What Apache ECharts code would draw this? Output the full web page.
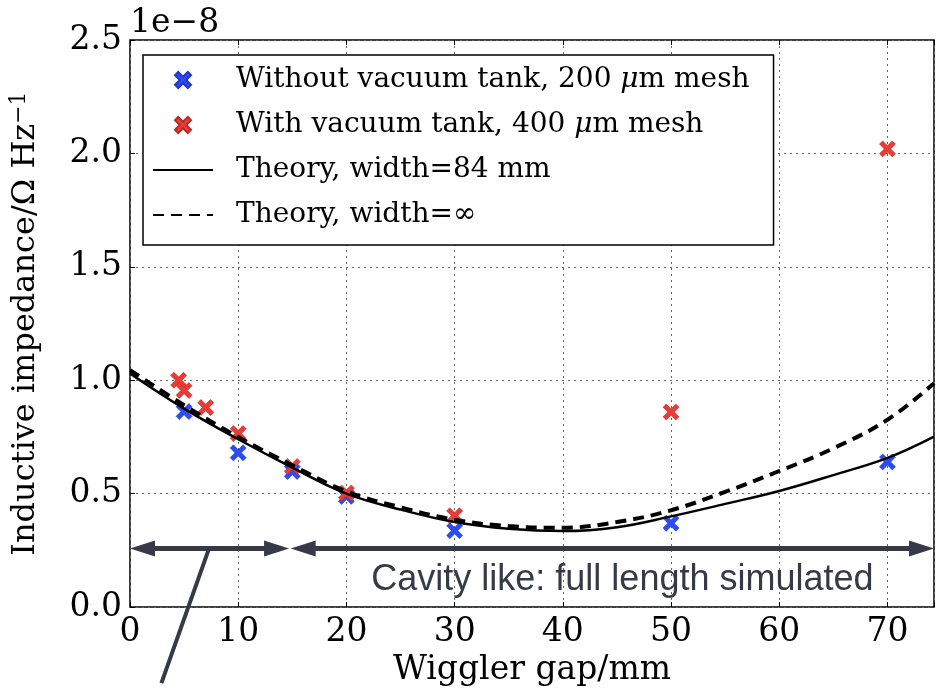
<!DOCTYPE html>
<html>
<head>
<meta charset="utf-8">
<script src="https://cdn.jsdelivr.net/npm/echarts@6/dist/echarts.min.js"></script>
<style>
  html, body { margin: 0; padding: 0; background: #fff; }
  #chart { width: 937px; height: 692px; }
</style>
</head>
<body>
<div id="chart"></div>
<script>
// values in units of 1e-8 Ohm/Hz
var withoutTank = [[5, 0.862], [10, 0.68], [15, 0.598], [20, 0.488], [30, 0.337], [50, 0.37], [70, 0.64]];
var withTank = [[4.5, 1.0], [5, 0.955], [7, 0.88], [10, 0.765], [15, 0.62], [20, 0.503], [30, 0.403], [50, 0.86], [70, 2.02]];
var theoryGap = [0, 5, 10, 15, 20, 25, 30, 35, 40, 45, 50, 55, 60, 65, 70, 74.3];
var theory84 = [1.03, 0.875, 0.74, 0.615, 0.50, 0.43, 0.375, 0.345, 0.335, 0.352, 0.40, 0.455, 0.512, 0.582, 0.658, 0.752];
var theoryInf = [1.045, 0.89, 0.75, 0.625, 0.51, 0.44, 0.385, 0.357, 0.35, 0.375, 0.427, 0.508, 0.60, 0.70, 0.826, 0.987];
var xTicks = [0, 10, 20, 30, 40, 50, 60, 70];
var yTicks = ['0.0', '0.5', '1.0', '1.5', '2.0', '2.5'];

var serif = 'DejaVu Serif';
var ink = '#363a48';
var xMark = 'path://M0,2 L2,0 L5,3 L8,0 L10,2 L7,5 L10,8 L8,10 L5,7 L2,10 L0,8 L3,5 Z';

function zip(xs, ys) {
    var out = [];
    for (var i = 0; i < xs.length; i++) out.push([xs[i], ys[i]]);
    return out;
}

var chart = echarts.init(document.getElementById('chart'));

var option = {
    animation: false,
    title: {
        text: '1e\u22128',
        left: 125,
        top: 2,
        textStyle: { fontFamily: serif, fontSize: 33, fontWeight: 'normal', color: '#000' }
    },
    grid: {
        left: 128, top: 40, right: -1, bottom: 77,
        show: true, borderColor: '#000', borderWidth: 1.5, backgroundColor: 'transparent'
    },
    legend: {
        orient: 'vertical',
        left: 143, top: 55,
        padding: [11, 24, 16, 9],
        itemGap: 17,
        itemWidth: 60,
        itemHeight: 16,
        backgroundColor: '#fff',
        borderColor: '#000',
        borderWidth: 1.5,
        borderRadius: 0,
        data: [
            { name: 'Without vacuum tank, 200 \u03bcm mesh' },
            { name: 'With vacuum tank, 400 \u03bcm mesh' },
            { name: 'Theory, width=84 mm', itemStyle: { opacity: 0 } },
            { name: 'Theory, width=\u221e', itemStyle: { opacity: 0 } }
        ],
        formatter: function (name) {
            return '{n|' + name.replace('\u03bc', '}{i|\u03bc}{n|') + '}';
        },
        textStyle: {
            fontFamily: serif, fontSize: 28, color: '#000', padding: [0, 0, 0, 18],
            rich: {
                n: { fontFamily: serif, fontSize: 28, color: '#000', lineHeight: 28 },
                i: { fontFamily: serif, fontSize: 28, fontStyle: 'italic', color: '#000', lineHeight: 28 }
            }
        }
    },
    xAxis: [{
        type: 'value', min: 0, max: 74.3, interval: 10,
        name: 'Wiggler gap/mm', nameLocation: 'middle', nameGap: 36,
        nameTextStyle: { fontFamily: serif, fontSize: 33, color: '#000' },
        axisLine: { show: false },
        axisTick: { show: true, inside: true, length: 5, lineStyle: { color: '#000' } },
        axisLabel: {
            fontFamily: serif, fontSize: 33, color: '#000', margin: 9,
            formatter: function (v) { return xTicks.indexOf(v) >= 0 ? String(v) : ''; }
        },
        splitLine: { show: true, lineStyle: { color: '#666', type: [2, 4], width: 1 } }
    }, {
        type: 'value', position: 'top', min: 0, max: 74.3, interval: 10,
        axisLine: { show: false },
        axisTick: { show: true, inside: true, length: 5, lineStyle: { color: '#000' } },
        axisLabel: { show: false },
        splitLine: { show: false }
    }],
    yAxis: {
        type: 'value', min: 0, max: 2.5, interval: 0.5,
        name: '{t|Inductive impedance/\u03a9 Hz}{s|\u22121}',
        nameLocation: 'middle', nameGap: 86,
        nameTextStyle: {
            rich: {
                t: { fontFamily: serif, fontSize: 32, color: '#000', lineHeight: 36 },
                s: { fontFamily: serif, fontSize: 22, color: '#000', verticalAlign: 'top', lineHeight: 36 }
            }
        },
        axisLine: { show: false },
        axisTick: { show: true, inside: true, length: 5, lineStyle: { color: '#000' } },
        axisLabel: {
            fontFamily: serif, fontSize: 33, color: '#000', margin: 8,
            formatter: function (v) { return yTicks[Math.round(v / 0.5)]; }
        },
        splitLine: { show: true, lineStyle: { color: '#666', type: [2, 4], width: 1 } }
    },
    series: [{
        name: 'Without vacuum tank, 200 \u03bcm mesh',
        type: 'scatter',
        symbol: xMark,
        symbolSize: 16,
        itemStyle: { color: '#2a4cf6', borderColor: '#2438c8', borderWidth: 0.6, opacity: 1 },
        data: withoutTank
    }, {
        name: 'With vacuum tank, 400 \u03bcm mesh',
        type: 'scatter',
        symbol: xMark,
        symbolSize: 16,
        itemStyle: { color: '#ea3b35', borderColor: '#b82c28', borderWidth: 0.6, opacity: 1 },
        data: withTank
    }, {
        name: 'Theory, width=84 mm',
        type: 'line',
        smooth: 0.4,
        symbol: 'none',
        lineStyle: { color: '#000', width: 2.5 },
        itemStyle: { color: '#000' },
        data: zip(theoryGap, theory84)
    }, {
        name: 'Theory, width=\u221e',
        type: 'line',
        smooth: 0.4,
        symbol: 'none',
        lineStyle: { color: '#000', width: 4, type: [11, 7] },
        itemStyle: { color: '#000' },
        data: zip(theoryGap, theoryInf)
    }]
};

chart.setOption(option);

// annotation overlay, placed in data coordinates
var arrowY = 0.258;
var arrowSpans = [[0, 14.7], [14.85, 74.3]];
var pointer = [[7.3, 0.258], [2.9, -0.335]];
var noteAt = [22.3, 0.117];

function px(p) { return chart.convertToPixel({ gridIndex: 0 }, p); }

var elements = [];
arrowSpans.forEach(function (s) {
    var a = px([s[0], arrowY]), b = px([s[1], arrowY]);
    var len = 25, hw = 8;
    elements.push({
        type: 'line', z: 100,
        shape: { x1: a[0] + 10, y1: a[1], x2: b[0] - 10, y2: b[1] },
        style: { stroke: ink, lineWidth: 5 }
    });
    elements.push({
        type: 'polygon', z: 100,
        shape: { points: [[a[0], a[1]], [a[0] + len, a[1] - hw], [a[0] + len, a[1] + hw]] },
        style: { fill: ink }
    });
    elements.push({
        type: 'polygon', z: 100,
        shape: { points: [[b[0], b[1]], [b[0] - len, b[1] - hw], [b[0] - len, b[1] + hw]] },
        style: { fill: ink }
    });
});
var p0 = px(pointer[0]), p1 = px(pointer[1]);
elements.push({
    type: 'line', z: 100,
    shape: { x1: p0[0], y1: p0[1], x2: p1[0], y2: p1[1] },
    style: { stroke: ink, lineWidth: 4 }
});
var t = px(noteAt);
elements.push({
    type: 'text', z: 100,
    x: t[0], y: t[1],
    style: {
        text: 'Cavity like: full length simulated',
        fontFamily: 'Liberation Sans', fontSize: 36, fill: ink,
        textAlign: 'left', textVerticalAlign: 'middle'
    }
});

chart.setOption({ graphic: elements });
</script>
</body>
</html>
